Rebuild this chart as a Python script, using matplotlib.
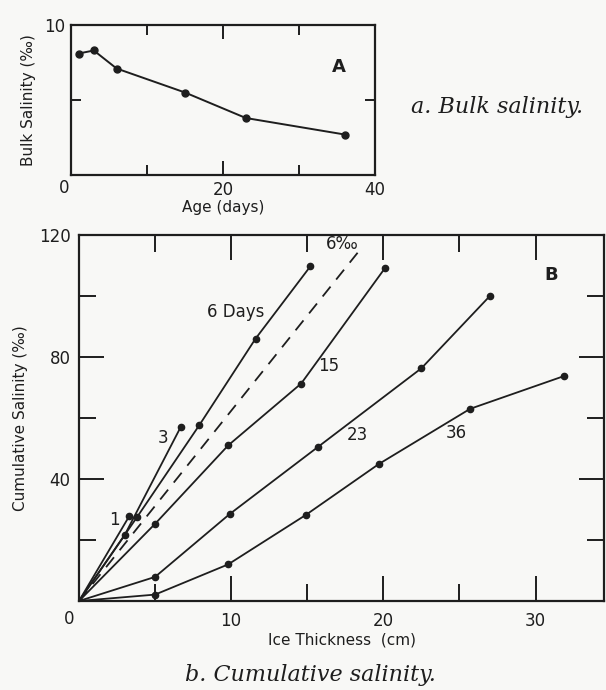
import numpy as np
import matplotlib.pyplot as plt
from matplotlib.ticker import MultipleLocator

# ---- panel A: bulk salinity vs age ----
age_days = [1, 3, 6, 15, 23, 36]
bulk_salinity = [8.1, 8.3, 7.1, 5.5, 3.8, 2.7]

# ---- panel B: cumulative salinity vs ice thickness, one profile per age ----
curve_labels = ["1", "3", "6 Days", "15", "23", "36"]
thick_1 = [0, 3.3]
cum_1 = [0, 27.8]
thick_3 = [0, 3.0, 6.7]
cum_3 = [0, 21.6, 57.2]
thick_6 = [0, 3.8, 7.9, 11.6, 15.2]
cum_6 = [0, 27.4, 57.6, 86.0, 109.7]
thick_15 = [0, 5.0, 9.8, 14.6, 20.1]
cum_15 = [0, 25.3, 51.0, 71.3, 109.1]
thick_23 = [0, 5.0, 9.9, 15.7, 22.5, 27.0]
cum_23 = [0, 7.9, 28.5, 50.5, 76.3, 100.0]
thick_36 = [0, 5.0, 9.8, 14.9, 19.7, 25.7, 31.9]
cum_36 = [0, 2.1, 12.0, 28.2, 44.9, 63.0, 73.8]
# reference line for a constant 6 per mil
ref_thick = [0, 18.6]
ref_cum = [0, 116]

ink = "#1e1e1e"
bg = "#f8f8f6"

plt.rcParams['font.family'] = ['DejaVu Sans']
fig = plt.figure(figsize=(6.06, 6.90), dpi=100, facecolor=bg)

# ---------------- panel A ----------------
axA = fig.add_axes([71/606, 1 - 175/690, 304/606, 150/690], facecolor=bg)
axA.plot(age_days, bulk_salinity, color=ink, lw=1.4, marker='o', ms=5)
axA.set_xlim(0, 40)
axA.set_ylim(0, 10)
axA.xaxis.set_minor_locator(MultipleLocator(10))
axA.set_yticks([0, 10])
axA.set_yticklabels(['', '10'])
axA.yaxis.set_minor_locator(MultipleLocator(5))
axA.set_xticks([0, 20, 40])
axA.set_xticklabels(['', '20', '40'])
axA.tick_params(which='both', direction='in', top=True, right=True, color=ink,
                labelcolor=ink, labelsize=12, width=1.4)
axA.tick_params(which='major', length=10, pad=4)
axA.tick_params(which='minor', length=7)
axA.annotate('0', (0, 0), xytext=(-7, -4), textcoords='offset pixels',
             ha='center', va='top', fontsize=12, color=ink)
for s in axA.spines.values():
    s.set_linewidth(1.6)
    s.set_color(ink)
axA.set_xlabel('Age (days)', fontsize=11, color=ink, labelpad=1)
axA.set_ylabel('Bulk Salinity (‰)', fontsize=11, color=ink, labelpad=6)
axA.text(35.2, 7.2, 'A', fontsize=13, fontweight='bold', color=ink,
         ha='center', va='center')

fig.text(497/606, 1 - 107/690, 'a. Bulk salinity.', family='DejaVu Serif',
         style='italic', fontsize=16, color=ink, ha='center', va='center')

# ---------------- panel B ----------------
axB = fig.add_axes([79/606, 1 - 601/690, 525/606, 366/690], facecolor=bg)
thick = [thick_1, thick_3, thick_6, thick_15, thick_23, thick_36]
cum = [cum_1, cum_3, cum_6, cum_15, cum_23, cum_36]
for t, c in zip(thick, cum):
    axB.plot(t, c, color=ink, lw=1.3, marker='o', ms=4.5)
axB.plot(ref_thick, ref_cum, color=ink, lw=1.3, ls=(0, (7, 5)))

label_pos = [(2.3, 26.5), (5.5, 53.5), (10.3, 94.7), (16.4, 77), (18.3, 54.3),
             (24.8, 55)]
for lab, (x, y) in zip(curve_labels, label_pos):
    axB.text(x, y, lab, fontsize=12, color=ink, ha='center', va='center')
axB.text(17.3, 117, '6‰', fontsize=12, color=ink, ha='center', va='center')
axB.text(31, 107, 'B', fontsize=13, fontweight='bold', color=ink,
         ha='center', va='center')

axB.set_xlim(0, 34.5)
axB.set_ylim(0, 120)
axB.set_xticks([10, 20, 30])
axB.xaxis.set_minor_locator(MultipleLocator(5))
axB.set_yticks([0, 40, 80, 120])
axB.set_yticklabels(['', '40', '80', '120'])
axB.yaxis.set_minor_locator(MultipleLocator(20))
axB.tick_params(which='both', direction='in', top=True, right=True, color=ink,
                labelcolor=ink, labelsize=12, width=1.4)
axB.tick_params(which='major', length=18)
axB.tick_params(axis='x', which='major', pad=8)
axB.tick_params(axis='y', which='major', pad=6)
axB.tick_params(which='minor', length=12)
axB.annotate('0', (0, 0), xytext=(-10, -9), textcoords='offset pixels',
             ha='center', va='top', fontsize=12, color=ink)
for s in axB.spines.values():
    s.set_linewidth(1.6)
    s.set_color(ink)
axB.set_xlabel('Ice Thickness  (cm)', fontsize=11, color=ink, labelpad=2)
axB.set_ylabel('Cumulative Salinity (‰)', fontsize=11, color=ink, labelpad=8)

fig.text(310/606, 1 - 675/690, 'b. Cumulative salinity.', family='DejaVu Serif',
         style='italic', fontsize=16, color=ink, ha='center', va='center')

fig.savefig('out.png', dpi=100, facecolor=bg)
